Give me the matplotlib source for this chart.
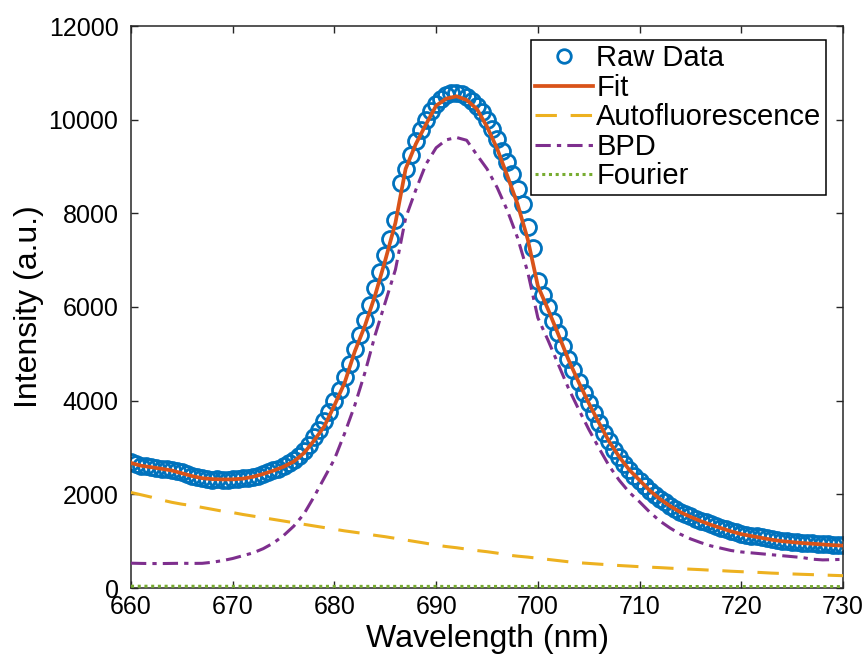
import numpy as np
import matplotlib
matplotlib.use("Agg")
import matplotlib.pyplot as plt

# ---------------- data ----------------
# Raw data, 660..730 nm every 0.5 nm
raw_start, raw_step = 660.0, 0.5
raw_intensity = [
    2680, 2640, 2610, 2600, 2590, 2570, 2540, 2535, 2520, 2500,   # 660.0-664.5
    2470, 2440, 2400, 2370, 2340, 2330, 2310, 2320, 2305, 2315,   # 665.0-669.5
    2320, 2320, 2340, 2350, 2375, 2400, 2440, 2470, 2510, 2550,   # 670.0-674.5
    2600, 2660, 2730, 2810, 2920, 3050, 3220, 3380, 3560, 3760,   # 675.0-679.5
    4000, 4230, 4500, 4780, 5100, 5400, 5720, 6050, 6400, 6750,   # 680.0-684.5
    7100, 7450, 7850, 8650, 8950, 9250, 9550, 9780, 10000, 10180, # 685.0-689.5
    10330, 10440, 10520, 10560, 10560, 10540, 10480, 10400, 10300, 10160,  # 690.0-694.5
    10000, 9800, 9580, 9330, 9100, 8830, 8530, 8200, 7700, 7250,  # 695.0-699.5
    6550, 6250, 6000, 5700, 5450, 5170, 4900, 4650, 4400, 4170,   # 700.0-704.5
    3950, 3730, 3520, 3320, 3130, 2950, 2790, 2640, 2510, 2390,   # 705.0-709.5
    2280, 2180, 2080, 1990, 1910, 1830, 1760, 1690, 1630, 1580,   # 710.0-714.5
    1530, 1480, 1440, 1400, 1360, 1320, 1290, 1250, 1220, 1190,   # 715.0-719.5
    1160, 1140, 1120, 1100, 1080, 1060, 1040, 1030, 1010, 1000,   # 720.0-724.5
    990, 980, 970, 960, 955, 945, 940, 935, 925, 920,             # 725.0-729.5
    915,                                                          # 730.0
]

# Model curves, 660..730 nm every 1 nm
comp_start, comp_step = 660.0, 1.0
fit_intensity = [
    2670, 2610, 2580, 2545, 2510, 2450, 2390, 2345, 2325, 2318,
    2320, 2335, 2375, 2435, 2505, 2590, 2700, 2880, 3150, 3450,
    3900, 4380, 5050, 5600, 6250, 7000, 7800, 8950, 9480, 9900,
    10300, 10450, 10500, 10420, 10230, 9850, 9380, 8800, 8200, 7450,
    6450, 5950, 5420, 4880, 4400, 3950, 3530, 3130, 2800, 2520,
    2300, 2080, 1900, 1750, 1620, 1520, 1430, 1350, 1280, 1210,
    1150, 1110, 1070, 1030, 1000, 980, 960, 945, 930, 915,
    905,
]
autofluor_intensity = [
    2040, 1990, 1940, 1880, 1830, 1790, 1760, 1720, 1680, 1640,
    1610, 1570, 1535, 1500, 1465, 1430, 1395, 1360, 1325, 1290,
    1255, 1220, 1190, 1160, 1125, 1095, 1060, 1025, 990, 955,
    915, 885, 860, 830, 800, 775, 745, 705, 680, 660,
    635, 610, 585, 560, 540, 525, 510, 495, 480, 468,
    455, 445, 435, 423, 412, 402, 392, 380, 370, 358,
    348, 340, 330, 318, 310, 300, 292, 285, 278, 270,
    263,
]
bpd_intensity = [
    530, 525, 522, 522, 525, 528, 525, 527, 550, 585,
    630, 690, 750, 840, 960, 1120, 1320, 1580, 1950, 2350,
    2750, 3300, 3900, 4600, 5400, 6100, 6800, 7900, 8500, 9050,
    9400, 9570, 9620, 9560, 9250, 8950, 8550, 8060, 7480, 6750,
    5770, 5290, 4780, 4270, 3820, 3390, 2990, 2610, 2300, 2040,
    1840, 1620, 1430, 1280, 1150, 1050, 970, 900, 850, 800,
    770, 750, 730, 710, 690, 670, 650, 615, 600, 605,
    612,
]
fourier_wavelength = [660, 670, 680, 690, 700, 710, 720, 730]
fourier_intensity = [38, 36, 35, 34, 33, 32, 31, 30]

legend_labels = ["Raw Data", "Fit", "Autofluorescence", "BPD", "Fourier"]
x_ticks = [660, 670, 680, 690, 700, 710, 720, 730]
y_ticks = [0, 2000, 4000, 6000, 8000, 10000, 12000]

raw_wavelength = raw_start + raw_step * np.arange(len(raw_intensity))
comp_wavelength = comp_start + comp_step * np.arange(len(fit_intensity))

# ---------------- style ----------------
plt.rcParams["font.family"] = ["Liberation Sans", "DejaVu Sans"]
BLUE, RED, ORANGE, PURPLE, GREEN = "#0072BD", "#D95319", "#EDB120", "#7E2F8E", "#77AC30"

W, H = 868, 655
fig = plt.figure(figsize=(W / 100, H / 100), dpi=100)
ax = fig.add_axes([131 / W, 1 - 588 / H, (843 - 131) / W, (588 - 26) / H])

ax.plot(raw_wavelength, raw_intensity, linestyle="none", marker="o",
        markersize=11.5, markerfacecolor="none", markeredgecolor=BLUE,
        markeredgewidth=2.0, label=legend_labels[0], zorder=2)
ax.plot(comp_wavelength, fit_intensity, color=RED, lw=2.7,
        label=legend_labels[1], zorder=3)
ax.plot(comp_wavelength, autofluor_intensity, color=ORANGE, lw=2.2,
        linestyle=(0, (7, 4.5)), label=legend_labels[2], zorder=3)
ax.plot(comp_wavelength, bpd_intensity, color=PURPLE, lw=2.2,
        linestyle=(0, (5, 2, 1.4, 2)), label=legend_labels[3], zorder=3)
ax.plot(fourier_wavelength, fourier_intensity, color=GREEN, lw=2.2,
        linestyle=(0, (1, 1.2)), label=legend_labels[4], zorder=3)

ax.set_xlim(660, 730)
ax.set_ylim(0, 12000)
ax.set_xticks(x_ticks)
ax.set_yticks(y_ticks)
ax.tick_params(direction="in", length=5, width=1.0, top=True, right=True,
               labelsize=18, colors="#262626", labelcolor="black")
ax.tick_params(axis="x", pad=5)
ax.tick_params(axis="y", pad=9)
for s in ax.spines.values():
    s.set_linewidth(1.1)
    s.set_color("#262626")

ax.set_xlabel("Wavelength (nm)", fontsize=23)
ax.xaxis.set_label_coords(0.5, (588 - 647) / 562)
ax.xaxis.label.set_va("baseline")
ax.set_ylabel("Intensity (a.u.)", fontsize=23)
ax.yaxis.set_label_coords((44 - 131) / 712, 0.5)

leg = ax.legend(loc="upper right", bbox_to_anchor=(826 / W, 1 - 40 / H),
                bbox_transform=fig.transFigure, borderaxespad=0,
                fontsize=21, frameon=True, fancybox=False, framealpha=1,
                edgecolor="black", handlelength=2.0, handletextpad=0.1,
                labelspacing=0.05, borderpad=0.15, markerscale=0.85)
leg.get_frame().set_linewidth(1.1)

fig.savefig("out.png", dpi=100)
